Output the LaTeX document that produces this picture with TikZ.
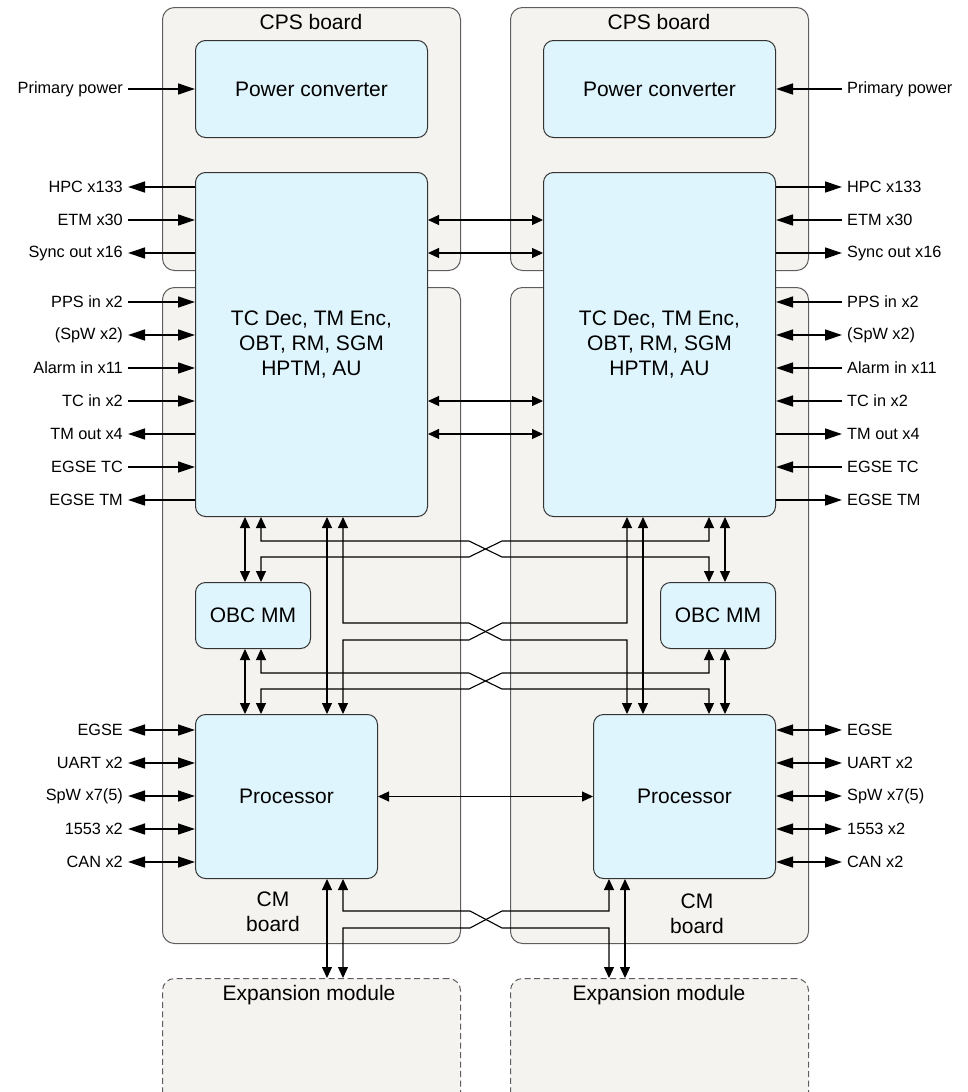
\documentclass[tikz,border=0pt]{standalone}
\usepackage{fontspec}
\setmainfont{Liberation Sans}
\usetikzlibrary{arrows.meta}
\definecolor{boardfill}{HTML}{F4F3EF}
\definecolor{blockfill}{HTML}{DFF5FD}
\definecolor{boardline}{HTML}{5E5E5E}
\definecolor{blockline}{HTML}{333333}
\begin{document}
\begin{tikzpicture}[x=1pt,y=-1pt,
 board/.style={draw=boardline,fill=boardfill,rounded corners=12pt,line width=1pt,inner sep=0pt,anchor=north west},
 expbox/.style={board,dash pattern=on 6pt off 3.5pt},
 block/.style={draw=blockline,fill=blockfill,rounded corners=10pt,line width=1pt,inner sep=0pt,anchor=north west,align=center,font=\fontsize{21}{25}\selectfont},
 boardtitle/.style={font=\fontsize{21}{25}\selectfont,align=center,inner sep=0pt},
 lblL/.style={font=\fontsize{16.3}{19}\selectfont,anchor=east,inner xsep=5pt,inner ysep=0pt},
 lblR/.style={lblL,anchor=west},
 extarrow/.style={line width=1.3pt,-{Triangle[length=17pt,width=11pt]}},
 extboth/.style={line width=1.3pt,{Triangle[length=17pt,width=11pt]}-{Triangle[length=17pt,width=11pt]}},
 intarrow/.style={line width=1.1pt,{Triangle[length=11pt,width=10pt]}-{Triangle[length=11pt,width=10pt]}},
]
\useasboundingbox (0,0) rectangle (968,1092);
\clip (0,0) rectangle (968,1092);

% boards
\node[board,minimum width=298pt,minimum height=263pt] (cpsL) at (162,7) {};
\node[board,minimum width=298pt,minimum height=656pt] (cmL) at (162,287) {};
\node[expbox,minimum width=298pt,minimum height=150pt] (expL) at (162,978) {};
\node[board,minimum width=298pt,minimum height=263pt] (cpsR) at (510,7) {};
\node[board,minimum width=298pt,minimum height=656pt] (cmR) at (510,287) {};
\node[expbox,minimum width=298pt,minimum height=150pt] (expR) at (510,978) {};

\node[boardtitle] (cpsLt) at (311,22) {CPS board};
\node[boardtitle] (cpsRt) at (659,22) {CPS board};
\node[boardtitle] (cmLt) at (273,912) {CM\\board};
\node[boardtitle] (cmRt) at (697,914) {CM\\board};
\node[boardtitle] (expLt) at (309,995) {Expansion module};
\node[boardtitle] (expRt) at (659,995) {Expansion module};

% blocks
\node[block,minimum width=232pt,minimum height=97pt] (pcL) at (195,40) {Power converter};
\node[block,minimum width=232pt,minimum height=344pt] (tcL) at (195,172) {TC Dec, TM Enc,\\OBT, RM, SGM\\HPTM, AU};
\node[block,minimum width=115pt,minimum height=66pt] (obcL) at (195,582) {OBC MM};
\node[block,minimum width=182pt,minimum height=164pt] (prL) at (195,714) {Processor};
\node[block,minimum width=232pt,minimum height=97pt] (pcR) at (543,40) {Power converter};
\node[block,minimum width=232pt,minimum height=344pt] (tcR) at (543,172) {TC Dec, TM Enc,\\OBT, RM, SGM\\HPTM, AU};
\node[block,minimum width=115pt,minimum height=66pt] (obcR) at (660,582) {OBC MM};
\node[block,minimum width=182pt,minimum height=164pt] (prR) at (593,714) {Processor};

% left labels
\node[lblL] (lPP) at (128,89) {Primary power};
\node[lblL] (lHPC) at (128,187) {HPC x133};
\node[lblL] (lETM) at (128,220) {ETM x30};
\node[lblL] (lSync) at (128,253) {Sync out x16};
\node[lblL] (lPPS) at (128,302) {PPS in x2};
\node[lblL] (lSpW) at (128,335) {(SpW x2)};
\node[lblL] (lAl) at (128,368) {Alarm in x11};
\node[lblL] (lTC) at (128,401) {TC in x2};
\node[lblL] (lTM) at (128,434) {TM out x4};
\node[lblL] (lETC) at (128,467) {EGSE TC};
\node[lblL] (lETMo) at (128,500) {EGSE TM};
\node[lblL] (lEG) at (128,730) {EGSE};
\node[lblL] (lUA) at (128,763) {UART x2};
\node[lblL] (lSp7) at (128,796) {SpW x7(5)};
\node[lblL] (l15) at (128,829) {1553 x2};
\node[lblL] (lCAN) at (128,862) {CAN x2};
% right labels
\node[lblR] (rPP) at (842,89) {Primary power};
\node[lblR] (rHPC) at (842,187) {HPC x133};
\node[lblR] (rETM) at (842,220) {ETM x30};
\node[lblR] (rSync) at (842,253) {Sync out x16};
\node[lblR] (rPPS) at (842,302) {PPS in x2};
\node[lblR] (rSpW) at (842,335) {(SpW x2)};
\node[lblR] (rAl) at (842,368) {Alarm in x11};
\node[lblR] (rTC) at (842,401) {TC in x2};
\node[lblR] (rTM) at (842,434) {TM out x4};
\node[lblR] (rETC) at (842,467) {EGSE TC};
\node[lblR] (rETMo) at (842,500) {EGSE TM};
\node[lblR] (rEG) at (842,730) {EGSE};
\node[lblR] (rUA) at (842,763) {UART x2};
\node[lblR] (rSp7) at (842,796) {SpW x7(5)};
\node[lblR] (r15) at (842,829) {1553 x2};
\node[lblR] (rCAN) at (842,862) {CAN x2};

% left external arrows
\draw[extarrow] (lPP.east) -- (pcL.west |- lPP.east);
\draw[extarrow] (tcL.west |- lHPC.east) -- (lHPC.east);
\draw[extarrow] (lETM.east) -- (tcL.west |- lETM.east);
\draw[extarrow] (tcL.west |- lSync.east) -- (lSync.east);
\draw[extarrow] (lPPS.east) -- (tcL.west |- lPPS.east);
\draw[extboth] (lSpW.east) -- (tcL.west |- lSpW.east);
\draw[extarrow] (lAl.east) -- (tcL.west |- lAl.east);
\draw[extarrow] (lTC.east) -- (tcL.west |- lTC.east);
\draw[extarrow] (tcL.west |- lTM.east) -- (lTM.east);
\draw[extarrow] (lETC.east) -- (tcL.west |- lETC.east);
\draw[extarrow] (tcL.west |- lETMo.east) -- (lETMo.east);
\draw[extboth] (lEG.east) -- (prL.west |- lEG.east);
\draw[extboth] (lUA.east) -- (prL.west |- lUA.east);
\draw[extboth] (lSp7.east) -- (prL.west |- lSp7.east);
\draw[extboth] (l15.east) -- (prL.west |- l15.east);
\draw[extboth] (lCAN.east) -- (prL.west |- lCAN.east);
% right external arrows
\draw[extarrow] (rPP.west) -- (pcR.east |- rPP.west);
\draw[extarrow] (tcR.east |- rHPC.west) -- (rHPC.west);
\draw[extarrow] (rETM.west) -- (tcR.east |- rETM.west);
\draw[extarrow] (tcR.east |- rSync.west) -- (rSync.west);
\draw[extarrow] (rPPS.west) -- (tcR.east |- rPPS.west);
\draw[extboth] (rSpW.west) -- (tcR.east |- rSpW.west);
\draw[extarrow] (rAl.west) -- (tcR.east |- rAl.west);
\draw[extarrow] (rTC.west) -- (tcR.east |- rTC.west);
\draw[extarrow] (tcR.east |- rTM.west) -- (rTM.west);
\draw[extarrow] (rETC.west) -- (tcR.east |- rETC.west);
\draw[extarrow] (tcR.east |- rETMo.west) -- (rETMo.west);
\draw[extboth] (rEG.west) -- (prR.east |- rEG.west);
\draw[extboth] (rUA.west) -- (prR.east |- rUA.west);
\draw[extboth] (rSp7.west) -- (prR.east |- rSp7.west);
\draw[extboth] (r15.west) -- (prR.east |- r15.west);
\draw[extboth] (rCAN.west) -- (prR.east |- rCAN.west);

% inter-board links
\draw[intarrow] (tcL.east |- lETM.east) -- (tcR.west |- lETM.east);
\draw[intarrow] (tcL.east |- lSync.east) -- (tcR.west |- lSync.east);
\draw[intarrow] (tcL.east |- lTC.east) -- (tcR.west |- lTC.east);
\draw[intarrow] (tcL.east |- lTM.east) -- (tcR.west |- lTM.east);
\draw[intarrow] (prL.east) -- (prR.west);

% columns
\coordinate (cL1) at (245,0);
\coordinate (cL2) at (261,0);
\coordinate (cL3) at (327,0);
\coordinate (cL4) at (343,0);
\coordinate (cR1) at (725,0);
\coordinate (cR2) at (709,0);
\coordinate (cR3) at (643,0);
\coordinate (cR4) at (627,0);
\coordinate (cE1) at (609,0);
\coordinate (cE2) at (625,0);

% straight vertical links
\draw[intarrow] (tcL.south -| cL1) -- (obcL.north -| cL1);
\draw[intarrow] (obcL.south -| cL1) -- (prL.north -| cL1);
\draw[intarrow] (tcL.south -| cL3) -- (prL.north -| cL3);
\draw[intarrow] (tcR.south -| cR1) -- (obcR.north -| cR1);
\draw[intarrow] (obcR.south -| cR1) -- (prR.north -| cR1);
\draw[intarrow] (tcR.south -| cR3) -- (prR.north -| cR3);
\draw[intarrow] (prL.south -| cL3) -- (expL.north -| cL3);
\draw[intarrow] (prR.south -| cE2) -- (expR.north -| cE2);

% crossed links
\draw[intarrow] (tcL.south -| cL2) |- (469,541) -- (502,557) -| (obcR.north -| cR2);
\draw[intarrow] (obcL.north -| cL2) |- (469,557) -- (502,541) -| (tcR.south -| cR2);
\draw[intarrow] (tcL.south -| cL4) |- (469,623) -- (502,640) -| (prR.north -| cR4);
\draw[intarrow] (prL.north -| cL4) |- (469,640) -- (502,623) -| (tcR.south -| cR4);
\draw[intarrow] (obcL.south -| cL2) |- (469,673) -- (502,689) -| (prR.north -| cR2);
\draw[intarrow] (prL.north -| cL2) |- (469,689) -- (502,673) -| (obcR.south -| cR2);
\draw[intarrow] (prL.south -| cL4) |- (470,911) -- (502,928) -| (expR.north -| cE1);
\draw[intarrow] (expL.north -| cL4) |- (470,928) -- (502,911) -| (prR.south -| cE1);
\end{tikzpicture}
\end{document}
